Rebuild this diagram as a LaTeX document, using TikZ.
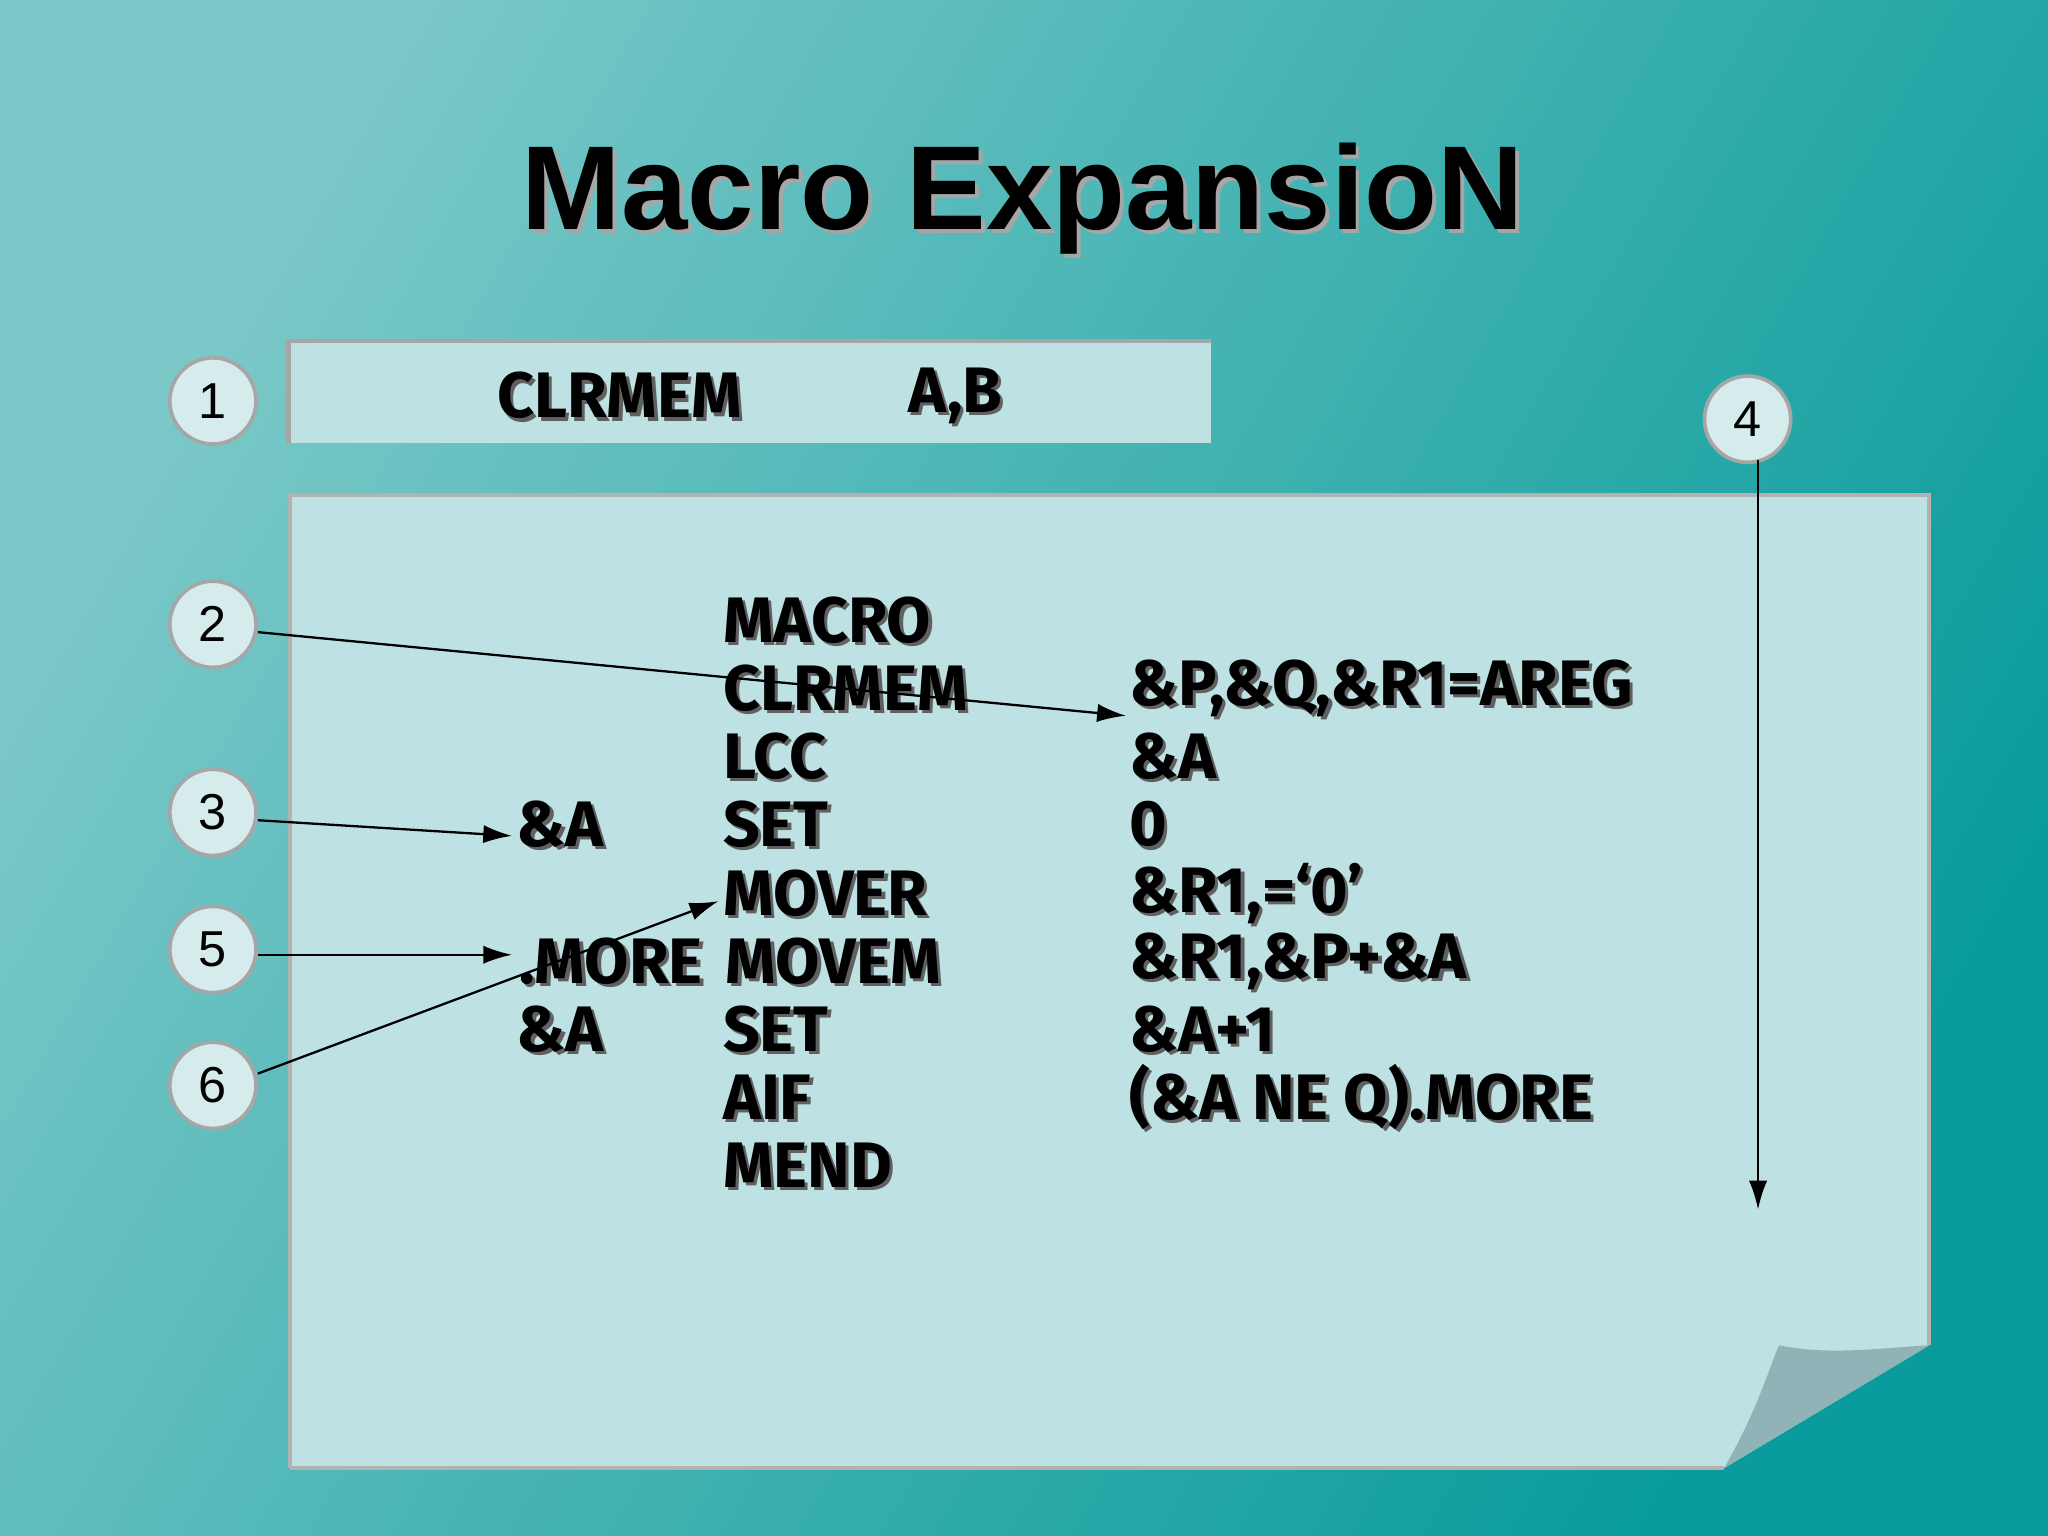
\documentclass[tikz,border=0pt]{standalone}
\usepackage{fontspec}
\setmainfont{Fira Sans}
\newfontfamily\titlefont{Liberation Sans}
\newfontfamily\numfont{Liberation Sans}
\usetikzlibrary{calc,arrows.meta}
\definecolor{bgA}{HTML}{B8E0E0}
\definecolor{bgB}{HTML}{0A9C9C}
\definecolor{paper}{HTML}{BEE1E4}
\definecolor{flap}{HTML}{8FB3B6}
\definecolor{circ}{HTML}{D6ECEC}
\tikzset{
 code/.style={font=\fontsize{14}{14}\selectfont\bfseries, inner sep=0pt, anchor=west},
 num/.style={circle, draw=gray!70, line width=0.8pt, fill=circ, minimum size=0.66cm, inner sep=0pt, font=\numfont\fontsize{11}{11}\selectfont},
 arr/.style={-{Latex[length=2.2mm,width=1.4mm]}, line width=0.5pt, black},
}
\newcommand{\ctext}[4]{%
 \node[code, text=gray!75!black] at ($(#2,#3)+(0.025,-0.025)$) {#4};
 \node[code] (#1) at (#2,#3) {#4};}
\begin{document}
\begin{tikzpicture}
\useasboundingbox (0,0) rectangle (15.68,11.76);
\shade[shading=axis, left color=bgA, right color=bgB, shading angle=60] (0,0) rectangle (15.68,11.76);
\fill[bgB, opacity=0.35] (0,0) rectangle (15.68,11.76);
% title
\node[font=\titlefont\bfseries\fontsize{26}{26}\selectfont, text=gray!70] at (7.86,10.21) {Macro ExpansioN};
\node[font=\titlefont\bfseries\fontsize{26}{26}\selectfont] (title) at (7.83,10.24) {Macro ExpansioN};
% box 1
\fill[paper] (2.21,8.37) rectangle (9.27,9.15);
\draw[gray!70, line width=1pt] (2.21,8.37) -- (2.21,9.15) -- (9.27,9.15);
\ctext{b1a}{3.80}{8.73}{CLRMEM}
\ctext{b1b}{6.95}{8.73}{A,B}
% note
\fill[paper] (2.22,7.97) -- (14.77,7.97) -- (14.77,1.46) -- (13.20,0.52) -- (2.22,0.52) -- cycle;
\draw[gray!60, line width=0.8pt] (2.22,0.52) -- (2.22,7.97) -- (14.77,7.97) -- (14.77,1.46);
\draw[gray!60, line width=0.8pt] (2.22,0.52) -- (13.20,0.52);
\fill[flap] (13.20,0.52) .. controls (13.45,0.95) and (13.55,1.30) .. (13.62,1.46) .. controls (14.0,1.38) and (14.4,1.44) .. (14.77,1.46) -- cycle;
% code
\ctext{op1}{5.53}{7.01}{MACRO}
\ctext{op2}{5.53}{6.49}{CLRMEM}
\ctext{ar2}{8.64}{6.49}{\&P,\&Q,\&R1=AREG}
\ctext{op3}{5.53}{5.97}{LCC}
\ctext{ar3}{8.64}{5.97}{\&A}
\ctext{lb4}{3.95}{5.45}{\&A}
\ctext{op4}{5.53}{5.45}{SET}
\ctext{ar4}{8.64}{5.45}{0}
\ctext{op5}{5.53}{4.92}{MOVER}
\ctext{ar5}{8.64}{4.92}{\&R1,=‘0’}
\ctext{lb6}{3.97}{4.40}{.MORE}
\ctext{op6}{5.55}{4.40}{MOVEM}
\ctext{ar6}{8.64}{4.40}{\&R1,\&P+\&A}
\ctext{lb7}{3.95}{3.88}{\&A}
\ctext{op7}{5.53}{3.88}{SET}
\ctext{ar7}{8.64}{3.88}{\&A+1}
\ctext{op8}{5.53}{3.36}{AIF}
\ctext{ar8}{8.64}{3.36}{(\&A NE Q).MORE}
\ctext{op9}{5.53}{2.84}{MEND}
% circles
\node[num] (c1) at (1.63,8.69) {1};
\node[num] (c2) at (1.63,6.98) {2};
\node[num] (c3) at (1.63,5.54) {3};
\node[num] (c5) at (1.63,4.49) {5};
\node[num] (c6) at (1.63,3.45) {6};
\node[num] (c4) at (13.38,8.55) {4};
% arrows
\coordinate (t2) at (8.62,6.28);
\coordinate (t3) at (3.92,5.36);
\coordinate (t5) at (3.92,4.45);
\coordinate (t6) at (5.50,4.86);
\coordinate (s4) at (13.46,8.24);
\coordinate (t4) at (13.46,2.50);
\draw[arr] (c2.east |- 0,6.92) -- (t2);
\draw[arr] (c3.east |- 0,5.48) -- (t3);
\draw[arr] (c5.east |- 0,4.45) -- (t5);
\draw[arr] (c6.east |- 0,3.54) -- (t6);
\draw[arr] (s4) -- (t4);
\end{tikzpicture}
\end{document}
